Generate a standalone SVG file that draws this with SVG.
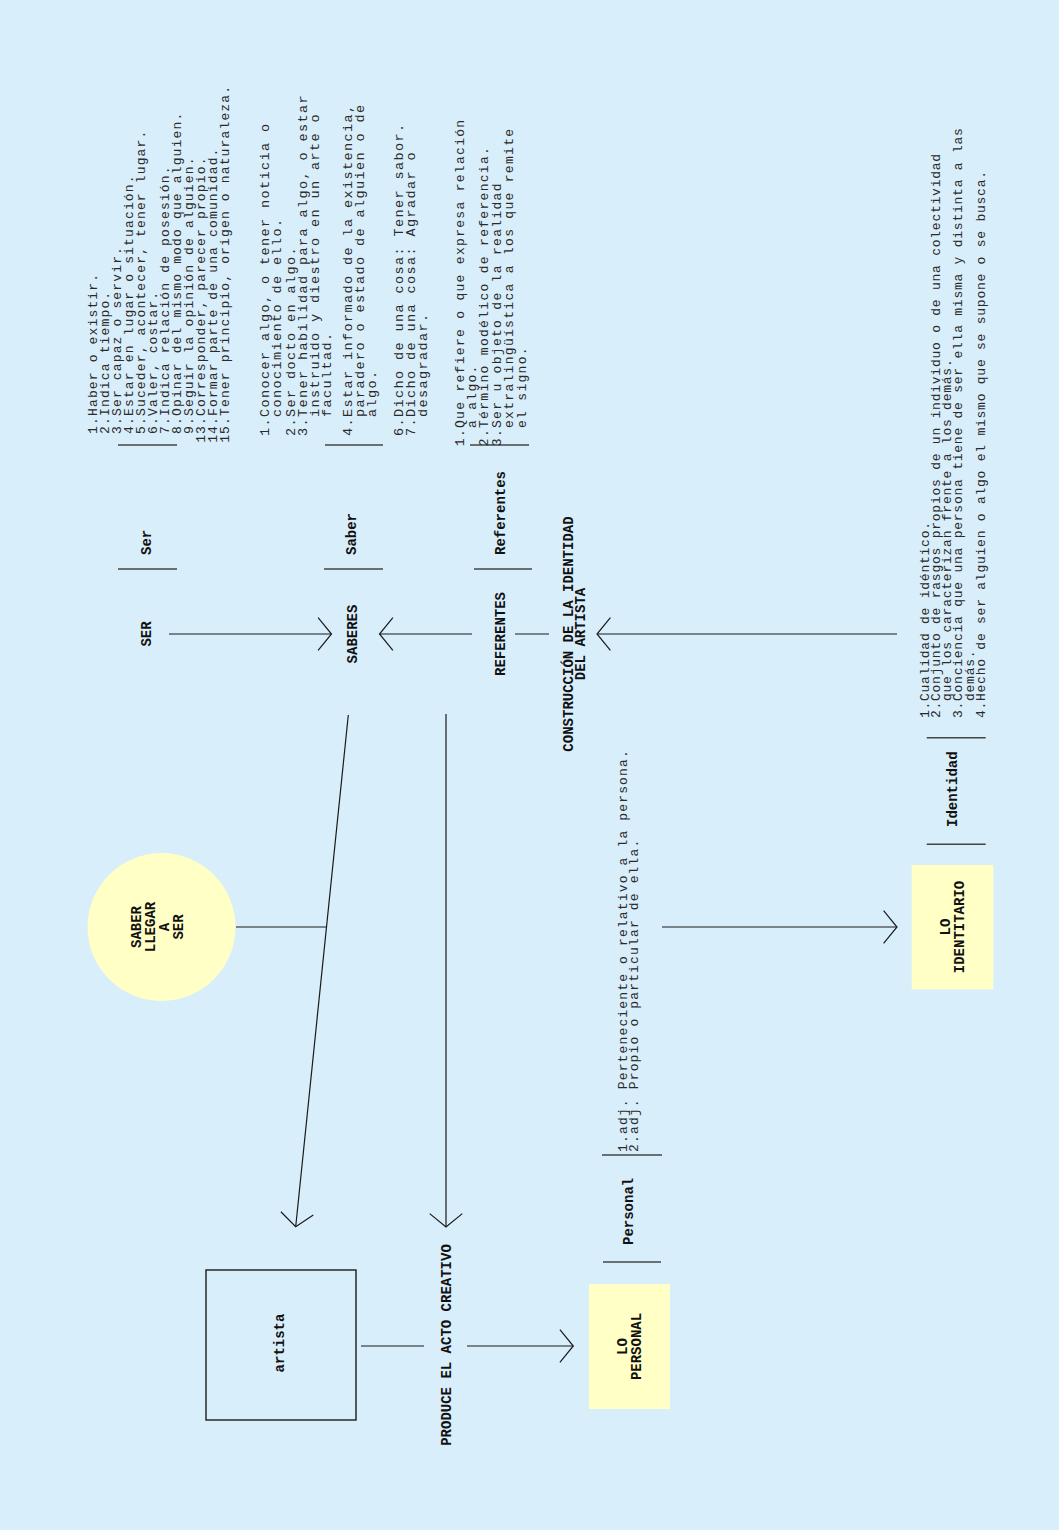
<svg xmlns="http://www.w3.org/2000/svg" width="1059" height="1530" viewBox="0 0 1059 1530">
  <defs>
    <style>
      .bg { fill: #d9eefb; }
      .lbl { font-family: "Liberation Mono", "DejaVu Sans Mono", monospace; font-weight: bold; font-size: 14px; fill: #111; }
      .def { font-family: "Liberation Mono", "DejaVu Sans Mono", monospace; font-size: 13px; fill: #2a2a2a; }
      .d-ser { letter-spacing: 1.15px; }
      .d-saber { font-size: 13.5px; letter-spacing: 1.4px; }
      .d-ref { letter-spacing: 1.3px; }
      .d-ide { letter-spacing: 0.76px; }
      .d-per { letter-spacing: 1.15px; }
      .sep { stroke: #444; stroke-width: 1.6; fill: none; }
      .con { stroke: #1a1a1a; stroke-width: 1.2; fill: none; }
      .note { fill: #ffffc6; }
      .box { fill: none; stroke: #1a1a1a; stroke-width: 1.4; }
    </style>
    <marker id="open" markerUnits="userSpaceOnUse" viewBox="-16 -18 18 36" markerWidth="18" markerHeight="36" refX="0" refY="0" orient="auto" overflow="visible">
      <path d="M-13.4,-16.3 L0,0 L-13.4,16.3" fill="none" stroke="#1a1a1a" stroke-width="1.2"/>
    </marker>
  </defs>

  <rect class="bg" x="0" y="0" width="1059" height="1530"/>

  <!-- connectors -->
  <g id="connectors">
    <line class="con" x1="169" y1="634" x2="331.5" y2="634" marker-end="url(#open)"/>
    <line class="con" x1="472" y1="634" x2="379.5" y2="634" marker-end="url(#open)"/>
    <line class="con" x1="515" y1="634" x2="549" y2="634"/>
    <line class="con" x1="897" y1="634" x2="597" y2="634" marker-end="url(#open)"/>
    <line class="con" x1="348.3" y1="715" x2="295.7" y2="1226.7" marker-end="url(#open)"/>
    <line class="con" x1="236" y1="927" x2="326.5" y2="927"/>
    <line class="con" x1="446" y1="714" x2="446" y2="1227" marker-end="url(#open)"/>
    <line class="con" x1="361" y1="1346" x2="424" y2="1346"/>
    <line class="con" x1="467" y1="1346" x2="573.3" y2="1346" marker-end="url(#open)"/>
    <line class="con" x1="662" y1="927" x2="897" y2="927" marker-end="url(#open)"/>
  </g>

  <!-- top row: SER, SABERES, REFERENTES, title -->
  <g id="ser">
    <text class="lbl" transform="translate(150.5,634) rotate(-90)" text-anchor="middle">SER</text>
  </g>
  <g id="saberes">
    <text class="lbl" transform="translate(356.7,634) rotate(-90)" text-anchor="middle">SABERES</text>
  </g>
  <g id="referentes">
    <text class="lbl" transform="translate(505,634) rotate(-90)" text-anchor="middle">REFERENTES</text>
  </g>
  <g id="construccion">
    <text class="lbl" transform="translate(573.3,634) rotate(-90)" text-anchor="middle">CONSTRUCCIÓN DE LA IDENTIDAD<tspan x="0" y="11.5">DEL ARTISTA</tspan></text>
  </g>

  <!-- definition: Ser -->
  <g id="def-ser">
    <line class="sep" x1="118" y1="445" x2="177" y2="445"/>
    <line class="sep" x1="118" y1="569" x2="177" y2="569"/>
    <text class="lbl" transform="translate(150.7,555) rotate(-90)">Ser</text>
    <text class="def d-ser" transform="translate(96.5,416) rotate(-90)">
      <tspan x="-17.9" y="0">1.</tspan><tspan x="0" y="0">Haber o existir.</tspan>
      <tspan x="-17.9" y="12">2.</tspan><tspan x="0" y="12">Indica tiempo.</tspan>
      <tspan x="-17.9" y="24">3.</tspan><tspan x="0" y="24">Ser capaz o servir.</tspan>
      <tspan x="-17.9" y="36">4.</tspan><tspan x="0" y="36">Estar en lugar o situación.</tspan>
      <tspan x="-17.9" y="48">5.</tspan><tspan x="0" y="48">Suceder, acontecer, tener lugar.</tspan>
      <tspan x="-17.9" y="60">6.</tspan><tspan x="0" y="60">Valer, costar.</tspan>
      <tspan x="-17.9" y="72">7.</tspan><tspan x="0" y="72">Indica relación de posesión.</tspan>
      <tspan x="-17.9" y="84">8.</tspan><tspan x="0" y="84">Opinar del mismo modo que alguien.</tspan>
      <tspan x="-17.9" y="96">9.</tspan><tspan x="0" y="96">Seguir la opinión de alguien.</tspan>
      <tspan x="-26.85" y="108">13.</tspan><tspan x="0" y="108">Corresponder, parecer propio.</tspan>
      <tspan x="-26.85" y="120">14.</tspan><tspan x="0" y="120">Formar parte de una comunidad.</tspan>
      <tspan x="-26.85" y="132">15.</tspan><tspan x="0" y="132">Tener principio, origen o naturaleza.</tspan>
    </text>
  </g>

  <!-- definition: Saber -->
  <g id="def-saber">
    <line class="sep" x1="325" y1="445" x2="383" y2="445"/>
    <line class="sep" x1="324" y1="569" x2="383" y2="569"/>
    <text class="lbl" transform="translate(355.7,555) rotate(-90)">Saber</text>
    <text class="def d-saber" transform="translate(268.5,417) rotate(-90)">
      <tspan x="-19" y="0">1.</tspan><tspan x="0" y="0">Conocer algo, o tener noticia o</tspan>
      <tspan x="0" y="12">conocimiento de ello.</tspan>
      <tspan x="-19" y="26">2.</tspan><tspan x="0" y="26">Ser docto en algo.</tspan>
      <tspan x="-19" y="38">3.</tspan><tspan x="0" y="38">Tener habilidad para algo, o estar</tspan>
      <tspan x="0" y="50">instruido y diestro en un arte o</tspan>
      <tspan x="0" y="62">facultad.</tspan>
      <tspan x="-19" y="83">4.</tspan><tspan x="0" y="83">Estar informado de la existencia,</tspan>
      <tspan x="0" y="95">paradero o estado de alguien o de</tspan>
      <tspan x="0" y="107">algo.</tspan>
      <tspan x="-19" y="134">6.</tspan><tspan x="0" y="134">Dicho de una cosa: Tener sabor.</tspan>
      <tspan x="-19" y="146">7.</tspan><tspan x="0" y="146">Dicho de una cosa: Agradar o</tspan>
      <tspan x="0" y="158">desagradar.</tspan>
    </text>
  </g>

  <!-- definition: Referentes -->
  <g id="def-referentes">
    <line class="sep" x1="470" y1="445" x2="529" y2="445"/>
    <line class="sep" x1="474" y1="569" x2="532" y2="569"/>
    <text class="lbl" transform="translate(505,555) rotate(-90)">Referentes</text>
    <text class="def d-ref" transform="translate(463.5,428) rotate(-90)">
      <tspan x="-18.2" y="0">1.</tspan><tspan x="0" y="0">Que refiere o que expresa relación</tspan>
      <tspan x="0" y="12">a algo.</tspan>
      <tspan x="-18.2" y="24.5">2.</tspan><tspan x="0" y="24.5">Término modélico de referencia.</tspan>
      <tspan x="-18.2" y="37">3.</tspan><tspan x="0" y="37">Ser u objeto de la realidad</tspan>
      <tspan x="0" y="49.5">extralingüística a los que remite</tspan>
      <tspan x="0" y="62">el signo.</tspan>
    </text>
  </g>

  <!-- definition: Identidad -->
  <g id="def-identidad">
    <line class="sep" x1="926.7" y1="737.7" x2="985.7" y2="737.7"/>
    <line class="sep" x1="926.7" y1="844.3" x2="985.7" y2="844.3"/>
    <text class="lbl" transform="translate(957.3,827) rotate(-90)">Identidad</text>
    <text class="def d-ide" transform="translate(928.5,701) rotate(-90)">
      <tspan x="-17.12" y="0">1.</tspan><tspan x="0" y="0">Cualidad de idéntico.</tspan>
      <tspan x="-17.12" y="11.3">2.</tspan><tspan x="0" y="11.3">Conjunto de rasgos propios de un individuo o de una colectividad</tspan>
      <tspan x="0" y="22.6">que los caracterizan frente a los demás.</tspan>
      <tspan x="-17.12" y="33.9">3.</tspan><tspan x="0" y="33.9">Conciencia que una persona tiene de ser ella misma y distinta a las</tspan>
      <tspan x="0" y="45.2">demás.</tspan>
      <tspan x="-17.12" y="56.5">4.</tspan><tspan x="0" y="56.5">Hecho de ser alguien o algo el mismo que se supone o se busca.</tspan>
    </text>
  </g>

  <!-- definition: Personal -->
  <g id="def-personal">
    <line class="sep" x1="602" y1="1155" x2="662" y2="1155"/>
    <line class="sep" x1="603" y1="1262" x2="661" y2="1262"/>
    <text class="lbl" transform="translate(633.3,1245) rotate(-90)">Personal</text>
    <text class="def d-per" transform="translate(626.5,1134) rotate(-90)">
      <tspan x="-17.9" y="0">1.</tspan><tspan x="0" y="0">adj. Perteneciente o relativo a la persona.</tspan>
      <tspan x="-17.9" y="11.5">2.</tspan><tspan x="0" y="11.5">adj. Propio o particular de ella.</tspan>
    </text>
  </g>

  <!-- yellow circle -->
  <g id="saber-llegar-a-ser">
    <circle class="note" cx="161.5" cy="927" r="74"/>
    <text class="lbl" transform="translate(140.8,927) rotate(-90)" text-anchor="middle">SABER<tspan x="0" y="14.2">LLEGAR</tspan><tspan x="0" y="28.4">A</tspan><tspan x="0" y="42.6">SER</tspan></text>
  </g>

  <!-- artista -->
  <g id="artista">
    <rect class="box" x="206" y="1270" width="150" height="150"/>
    <text class="lbl" transform="translate(284,1343) rotate(-90)" text-anchor="middle">artista</text>
  </g>

  <g id="produce">
    <text class="lbl" transform="translate(450.7,1345) rotate(-90)" text-anchor="middle">PRODUCE EL ACTO CREATIVO</text>
  </g>

  <!-- LO PERSONAL -->
  <g id="lo-personal">
    <rect class="note" x="589" y="1284" width="81" height="125"/>
    <text class="lbl" transform="translate(626.7,1346.5) rotate(-90)" text-anchor="middle">LO<tspan x="0" y="14">PERSONAL</tspan></text>
  </g>

  <!-- LO IDENTITARIO -->
  <g id="lo-identitario">
    <rect class="note" x="911.7" y="865" width="81.6" height="124.3"/>
    <text class="lbl" transform="translate(949.5,927) rotate(-90)" text-anchor="middle">LO<tspan x="0" y="14.5">IDENTITARIO</tspan></text>
  </g>
</svg>
